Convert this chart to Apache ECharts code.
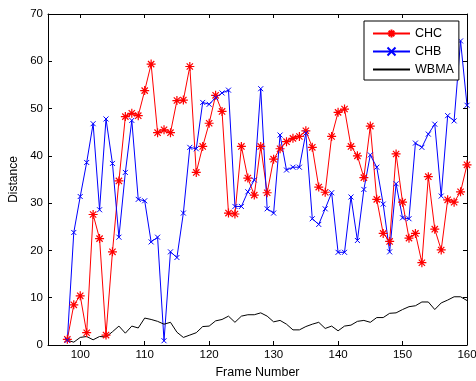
<!DOCTYPE html>
<html>
<head>
<meta charset="utf-8">
<script src="https://cdn.jsdelivr.net/npm/echarts@6/dist/echarts.min.js"></script>
<style>
  html, body { margin: 0; padding: 0; background: #fff; }
  #chart { width: 476px; height: 381px; }
</style>
</head>
<body>
<div id="chart"></div>
<script>
// Frame numbers (x values)
var frames = [98, 99, 100, 101, 102, 103, 104, 105, 106, 107, 108, 109, 110, 111, 112, 113, 114, 115, 116, 117, 118, 119,
  120, 121, 122, 123, 124, 125, 126, 127, 128, 129, 130, 131, 132, 133, 134, 135, 136, 137, 138, 139,
  140, 141, 142, 143, 144, 145, 146, 147, 148, 149, 150, 151, 152, 153, 154, 155, 156, 157, 158, 159, 160];

var chc = [1.2, 8.5, 10.4, 2.6, 27.6, 22.5, 2.1, 19.7, 34.7, 48.3, 49.0, 48.5, 53.8, 59.4, 44.9, 45.5, 44.9, 51.7, 51.8, 58.9, 36.5, 42.0,
  46.9, 52.8, 49.4, 27.9, 27.7, 42.0, 35.3, 31.7, 42.0, 32.2, 39.3, 41.5, 43.0, 43.7, 44.1, 45.3, 41.8, 33.4, 32.3, 44.1,
  49.2, 49.9, 42.0, 40.0, 35.4, 46.3, 30.8, 23.6, 21.9, 40.4, 30.2, 22.6, 23.6, 17.4, 35.6, 24.5, 20.1, 30.7, 30.2, 32.4, 38.1];

var chb = [1.0, 23.8, 31.4, 38.6, 46.8, 28.6, 47.8, 38.4, 22.8, 36.5, 47.5, 30.8, 30.5, 21.8, 22.8, 0.9, 19.7, 18.5, 27.9, 41.8, 41.5, 51.3,
  50.9, 52.3, 53.3, 53.9, 29.3, 29.3, 32.4, 34.9, 54.2, 28.8, 27.9, 44.4, 37.0, 37.6, 37.6, 44.8, 26.7, 25.5, 28.8, 32.2,
  19.6, 19.6, 31.3, 22.1, 32.9, 40.2, 37.6, 29.8, 19.7, 34.1, 26.9, 26.7, 42.7, 41.8, 44.6, 46.7, 31.5, 48.5, 47.4, 64.3, 50.7];

var wbma = [1.0, 0.6, 1.6, 1.8, 1.1, 1.8, 1.7, 2.8, 4.0, 2.5, 4.0, 3.6, 5.7, 5.4, 5.0, 4.4, 4.8, 2.7, 1.6, 2.1, 2.6, 3.9,
  4.0, 5.1, 5.4, 6.1, 4.8, 6.1, 6.4, 6.4, 6.8, 6.1, 4.9, 5.2, 4.4, 3.2, 3.2, 3.9, 4.4, 4.8, 3.5, 4.0,
  3.0, 4.0, 4.2, 5.0, 5.2, 4.8, 5.8, 5.8, 6.7, 6.8, 7.5, 8.1, 8.3, 9.1, 9.1, 7.5, 8.9, 9.5, 10.2, 10.2, 9.4];

var xTicks = [100, 110, 120, 130, 140, 150, 160];
var seriesNames = ['CHC', 'CHB', 'WBMA'];

function pairs(vals) { return frames.map(function (f, i) { return [f, vals[i]]; }); }

var FONT = '"Liberation Sans", Arial, Helvetica, sans-serif';
var asterisk = 'path://M5,0L5,10M0,5L10,5M1.5,1.5L8.5,8.5M1.5,8.5L8.5,1.5';
var cross = 'path://M0,0L10,10M0,10L10,0';

var chart = echarts.init(document.getElementById('chart'), null, { renderer: 'canvas' });

var xBase = {
  type: 'value', min: 95, max: 160,
  axisLine: { show: true, onZero: false, lineStyle: { color: '#000', width: 1 } },
  axisTick: { show: true, inside: true, length: 4, customValues: xTicks, lineStyle: { color: '#000' } },
  splitLine: { show: false }
};
var yBase = {
  type: 'value', min: 0, max: 70, interval: 10,
  axisLine: { show: true, onZero: false, lineStyle: { color: '#000', width: 1 } },
  axisTick: { show: true, inside: true, length: 4, lineStyle: { color: '#000' } },
  splitLine: { show: false }
};

var option = {
  animation: false,
  backgroundColor: '#fff',
  textStyle: { fontFamily: FONT },
  grid: { left: 48, right: 9, top: 14, bottom: 36, containLabel: false, outerBoundsMode: 'none' },
  legend: {
    orient: 'vertical', left: 364, top: 21,
    padding: [6, 5, 4, 8],
    itemWidth: 37, itemHeight: 10, itemGap: 5,
    backgroundColor: '#fff', borderColor: '#000', borderWidth: 1, borderRadius: 0,
    textStyle: { fontSize: 12.5, color: '#000', fontFamily: FONT },
    data: [
      { name: seriesNames[0] },
      { name: seriesNames[1] },
      { name: seriesNames[2], itemStyle: { opacity: 0 } }
    ]
  },
  xAxis: [
    Object.assign({}, xBase, {
      position: 'bottom',
      name: 'Frame Number', nameLocation: 'middle', nameGap: 19,
      nameTextStyle: { fontSize: 12.5, color: '#000', fontFamily: FONT },
      axisLabel: { show: true, margin: 4, fontSize: 11.5, color: '#000', fontFamily: FONT, customValues: xTicks }
    }),
    Object.assign({}, xBase, { position: 'top', axisLabel: { show: false } })
  ],
  yAxis: [
    Object.assign({}, yBase, {
      position: 'left',
      name: 'Distance', nameLocation: 'middle', nameGap: 23, nameRotate: 90,
      nameTextStyle: { fontSize: 12, color: '#000', fontFamily: FONT },
      axisLabel: { show: true, margin: 5, fontSize: 11.5, color: '#000', fontFamily: FONT }
    }),
    Object.assign({}, yBase, { position: 'right', axisLabel: { show: false } })
  ],
  series: [
    {
      name: seriesNames[0], type: 'line', xAxisIndex: 0, yAxisIndex: 0,
      data: pairs(chc),
      symbol: asterisk, symbolSize: 9, showSymbol: true,
      lineStyle: { color: '#ff0000', width: 1 },
      itemStyle: { color: '#ff0000', borderColor: '#ff0000', borderWidth: 1.2 },
      emphasis: { disabled: true }
    },
    {
      name: seriesNames[1], type: 'line', xAxisIndex: 0, yAxisIndex: 0,
      data: pairs(chb),
      symbol: cross, symbolSize: 5, showSymbol: true,
      lineStyle: { color: '#0000ff', width: 1 },
      itemStyle: { color: '#0000ff', borderColor: '#0000ff', borderWidth: 1 },
      emphasis: { disabled: true }
    },
    {
      name: seriesNames[2], type: 'line', xAxisIndex: 0, yAxisIndex: 0,
      data: pairs(wbma),
      symbol: 'circle', showSymbol: false,
      lineStyle: { color: '#000000', width: 1 },
      itemStyle: { color: '#000000' },
      emphasis: { disabled: true }
    }
  ]
};
chart.setOption(option);
</script>
</body>
</html>
